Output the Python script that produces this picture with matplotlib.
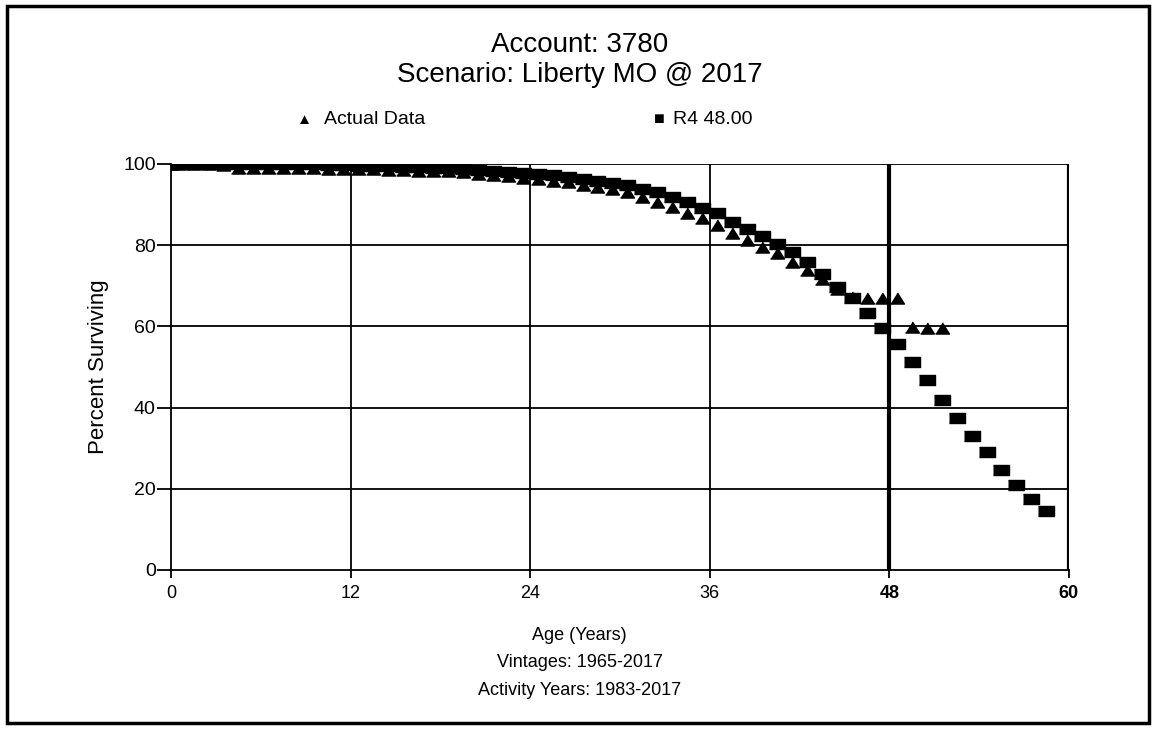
import matplotlib.pyplot as plt
from matplotlib.patches import Rectangle
import numpy as np

plt.rcParams['font.family'] = ['Liberation Sans', 'DejaVu Sans']

# observed life table (ages 0, 0.5, 1.5, ...)
actual_age = [0] + [a + 0.5 for a in range(52)]
actual_pct = [100, 100, 100, 99.9, 99.8, 98.9, 98.9, 98.9, 98.9, 98.9, 98.9,
              98.8, 98.8, 98.8, 98.7, 98.6, 98.5, 98.3, 98.3, 98.2, 98.0,
              97.5, 97.4, 97.0, 96.6, 96.2, 95.8, 95.5, 94.7, 94.4, 93.9,
              93.0, 91.8, 90.6, 89.3, 88.0, 86.8, 85.0, 83.1, 81.3, 79.6,
              78.0, 75.8, 73.9, 71.6, 69.1, 67.2, 66.9, 66.9, 66.9, 59.9,
              59.6, 59.6]

# R4 48.00 fitted curve
curve_age = [0] + [a + 0.5 for a in range(59)]
curve_pct = [100, 100, 100, 100, 100, 100, 100, 100, 100, 99.9, 99.9,
             99.8, 99.7, 99.6, 99.5, 99.4, 99.3, 99.2, 99.0, 98.9, 98.7,
             98.5, 98.3, 98.1, 97.8, 97.5, 97.2, 96.8, 96.3, 95.9, 95.4,
             94.7, 93.8, 93.0, 91.8, 90.7, 89.2, 87.8, 85.8, 84.0, 82.3,
             80.3, 78.2, 75.9, 72.8, 69.8, 67.0, 63.4, 59.6, 55.7, 51.2,
             46.8, 41.9, 37.4, 33.0, 29.0, 24.6, 21.0, 17.6, 14.5]

x_ticks = [0, 12, 24, 36, 48, 60]
y_ticks = [0, 20, 40, 60, 80, 100]

tri = [(-1, -0.8), (1, -0.8), (0, 0.8)]
box = [(-1, -0.7), (1, -0.7), (1, 0.7), (-1, 0.7)]

fig = plt.figure(figsize=(11.57, 7.31), dpi=100)
ax = fig.add_axes([0.1478, 0.2203, 0.776, 0.5554])

for x in x_ticks[1:]:
    lw = 3 if x >= 48 else 1.3
    ax.axvline(x, color='black', lw=lw, zorder=1)
for y in y_ticks[1:]:
    ax.axhline(y, color='black', lw=1.3, zorder=1)

ax.plot(actual_age, actual_pct, linestyle='none', marker=tri, markersize=10,
        color='black', label='Actual Data', zorder=3)
ax.plot(curve_age, curve_pct, linestyle='none', marker=box, markersize=11,
        color='black', label='R4 48.00', zorder=4)

ax.set_xlim(0, 60)
ax.set_ylim(0, 100)
ax.set_xticks(x_ticks)
ax.set_yticks(y_ticks)
ax.set_xticklabels([str(v) for v in x_ticks], fontsize=13)
for lab in ax.get_xticklabels()[4:]:
    lab.set_fontweight('bold')
ax.set_yticklabels([str(v) for v in y_ticks], fontsize=14)
ax.tick_params(axis='y', length=10, width=1.3, color='black', pad=1)
ax.tick_params(axis='x', length=6, width=1.3, color='black', pad=5)
for side in ['top', 'right']:
    ax.spines[side].set_visible(False)
for side in ['left', 'bottom']:
    ax.spines[side].set_linewidth(1.3)

ax.set_ylabel('Percent Surviving', fontsize=16, labelpad=10)

fig.text(0.501, 0.938, 'Account: 3780', ha='center', va='center', fontsize=20)
fig.text(0.501, 0.898, 'Scenario: Liberty MO @ 2017', ha='center', va='center', fontsize=20)

fig.text(0.257, 0.836, '\u25B2', ha='left', va='center', fontsize=11)
fig.text(0.280, 0.836, 'Actual Data', ha='left', va='center', fontsize=14)
fig.text(0.565, 0.836, '\u25A0', ha='left', va='center', fontsize=13)
fig.text(0.582, 0.836, 'R4 48.00', ha='left', va='center', fontsize=14)

fig.text(0.501, 0.131, 'Age (Years)', ha='center', va='center', fontsize=13)
fig.text(0.501, 0.094, 'Vintages: 1965-2017', ha='center', va='center', fontsize=13)
fig.text(0.501, 0.056, 'Activity Years: 1983-2017', ha='center', va='center', fontsize=13)

fig.patches.append(Rectangle((7 / 1157, 8 / 731), 1142 / 1157, 717 / 731,
                             transform=fig.transFigure, fill=False,
                             edgecolor='black', lw=2.5))

fig.savefig('out.png', dpi=100)
